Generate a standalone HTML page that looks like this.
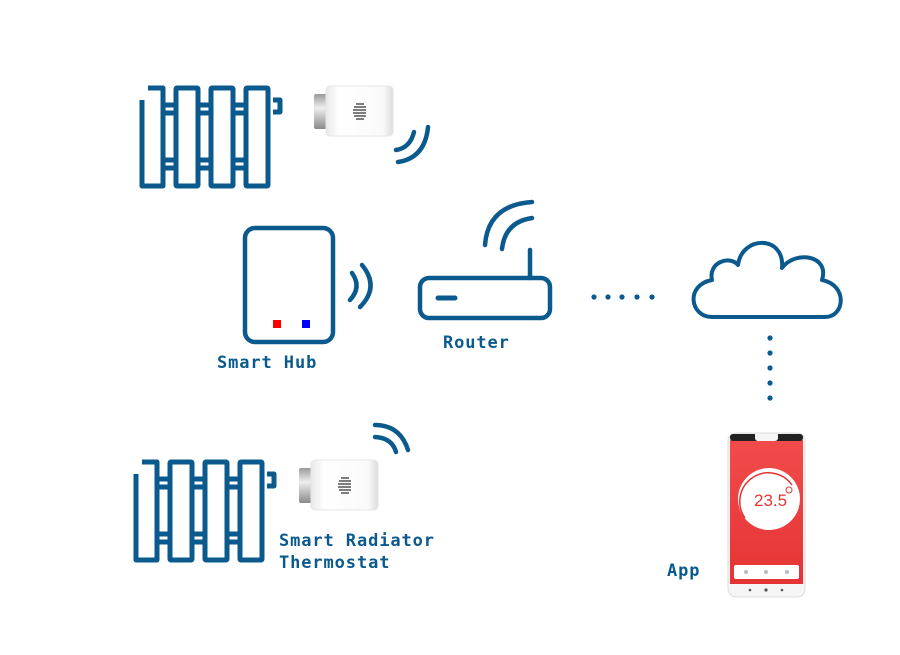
<!DOCTYPE html>
<html><head><meta charset="utf-8"><style>
html,body{margin:0;padding:0;background:#fff;}
svg{display:block}
text{font-family:"DejaVu Sans Mono","Liberation Mono",monospace;font-weight:bold;fill:#0b5a8e;font-size:17px;letter-spacing:0.9px}
</style></head><body>
<svg width="900" height="655" viewBox="0 0 900 655" xmlns="http://www.w3.org/2000/svg">
<defs>
<g id="rad" fill="none" stroke="#0b5a8e" stroke-width="5" stroke-linejoin="round">
  <path d="M2 14 V100 H23 V2 H8"/>
  <rect x="36" y="2" width="22" height="98" rx="1"/>
  <rect x="71" y="2" width="22" height="98" rx="1"/>
  <rect x="106" y="2" width="22" height="98" rx="1"/>
  <path d="M23 19 H36 M23 27 H36 M58 19 H71 M58 27 H71 M93 19 H106 M93 27 H106"/>
  <path d="M23 74 H36 M23 82 H36 M58 74 H71 M58 82 H71 M93 74 H106 M93 82 H106"/>
  <path d="M133 14 H140 V26 H133"/>
</g>
<linearGradient id="met" x1="0" y1="0" x2="0" y2="1"><stop offset="0" stop-color="#9a9a9a"/><stop offset=".4" stop-color="#eee"/><stop offset="1" stop-color="#8a8a8a"/></linearGradient>
<linearGradient id="body" x1="0" y1="0" x2="1" y2="0"><stop offset="0" stop-color="#e8e8e8"/><stop offset=".2" stop-color="#fff"/><stop offset=".85" stop-color="#fafafa"/><stop offset="1" stop-color="#ddd"/></linearGradient>
<g id="th">
  <rect x="0" y="8" width="14" height="35" rx="2" fill="url(#met)"/>
  <rect x="12" y="0" width="67" height="50" rx="4" fill="url(#body)" stroke="#e6e6e6"/>
  <g stroke="#333" stroke-width="1.3">
    <path d="M42 18 H50 M40 21 H52 M39 24 H52 M39 27 H52 M40 30 H52 M42 33 H50"/>
  </g>
</g>
<linearGradient id="scr" x1="0" y1="0" x2="0" y2="1"><stop offset="0" stop-color="#f24b4b"/><stop offset="1" stop-color="#e53434"/></linearGradient>
</defs>

<use href="#rad" x="140" y="86"/>
<use href="#th" x="314" y="86"/>
<g fill="none" stroke="#0b5a8e" stroke-width="4.5" stroke-linecap="round">
  <path d="M396 150 Q410 148 414 132"/>
  <path d="M398 162 Q425 158 428 127"/>
</g>

<rect x="245" y="228" width="88" height="114" rx="10" fill="none" stroke="#0b5a8e" stroke-width="4.5"/>
<rect x="273" y="320" width="8" height="8" fill="#f00"/>
<rect x="302" y="320" width="8" height="8" fill="#00f"/>
<g fill="none" stroke="#0b5a8e" stroke-width="4.5" stroke-linecap="round">
  <path d="M352 273 Q362 287 350 300"/>
  <path d="M362 265 Q380 287 360 307"/>
</g>
<text x="217" y="368">Smart Hub</text>

<rect x="420" y="278" width="130" height="40" rx="9" fill="none" stroke="#0b5a8e" stroke-width="4.5"/>
<path d="M438 298 H455" stroke="#0b5a8e" stroke-width="5" stroke-linecap="round"/>
<g fill="none" stroke="#0b5a8e" stroke-width="4.5" stroke-linecap="round">
  <path d="M530 250 V278"/>
  <path d="M485 245 Q488 205 532 202"/>
  <path d="M502 249 Q505 222 532 218"/>
</g>
<text x="443" y="348">Router</text>

<g fill="#0b5a8e">
  <circle cx="594" cy="297" r="2.6"/><circle cx="608" cy="297" r="2.6"/><circle cx="622" cy="297" r="2.6"/><circle cx="637" cy="297" r="2.6"/><circle cx="652" cy="297" r="2.6"/>
  <circle cx="770" cy="338" r="2.6"/><circle cx="770" cy="353" r="2.6"/><circle cx="770" cy="368" r="2.6"/><circle cx="770" cy="383" r="2.6"/><circle cx="770" cy="398" r="2.6"/>
</g>

<path d="M712 317 C690 317 685 285 712 280 C708 262 730 255 738 265 C742 235 785 235 782 268 C795 250 830 255 822 280 C848 285 845 317 825 317 Z" fill="none" stroke="#0b5a8e" stroke-width="4" stroke-linejoin="round"/>

<use href="#rad" x="134" y="460"/>
<use href="#th" x="299" y="460"/>
<g fill="none" stroke="#0b5a8e" stroke-width="4.5" stroke-linecap="round">
  <path d="M375 425 Q400 425 408 450"/>
  <path d="M375 437 Q392 438 396 452"/>
</g>
<text x="279" y="546">Smart Radiator</text>
<text x="279" y="568">Thermostat</text>

<rect x="728" y="433" width="77" height="164" rx="8" fill="#f5f5f5" stroke="#ddd"/>
<rect x="730" y="440" width="73" height="144" fill="url(#scr)"/>
<rect x="730" y="434" width="73" height="7" rx="3" fill="#222"/>
<path d="M755 434 h23 v4 a3 3 0 0 1 -3 3 h-17 a3 3 0 0 1 -3 -3z" fill="#f5f5f5"/>
<circle cx="769" cy="499" r="31" fill="#fff"/>
<path d="M745 518 A27 27 0 0 1 792 485" fill="none" stroke="#e53434" stroke-width="1.5"/>
<circle cx="789" cy="490" r="3" fill="#fff" stroke="#e53434"/>
<text x="754" y="506" style="fill:#e53434;font-family:'Liberation Sans',sans-serif;font-size:17px;font-weight:normal;letter-spacing:0">23.5</text>
<rect x="734" y="565" width="65" height="14" rx="2" fill="#fff"/>
<circle cx="746" cy="572" r="2" fill="#bbb"/><circle cx="766" cy="572" r="2" fill="#bbb"/><circle cx="787" cy="572" r="2" fill="#bbb"/>
<circle cx="750" cy="590" r="1.3" fill="#555"/><circle cx="766" cy="590" r="1.6" fill="#555"/><circle cx="782" cy="590" r="1.3" fill="#555"/>
<text x="667" y="576">App</text>
</svg>
</body></html>
